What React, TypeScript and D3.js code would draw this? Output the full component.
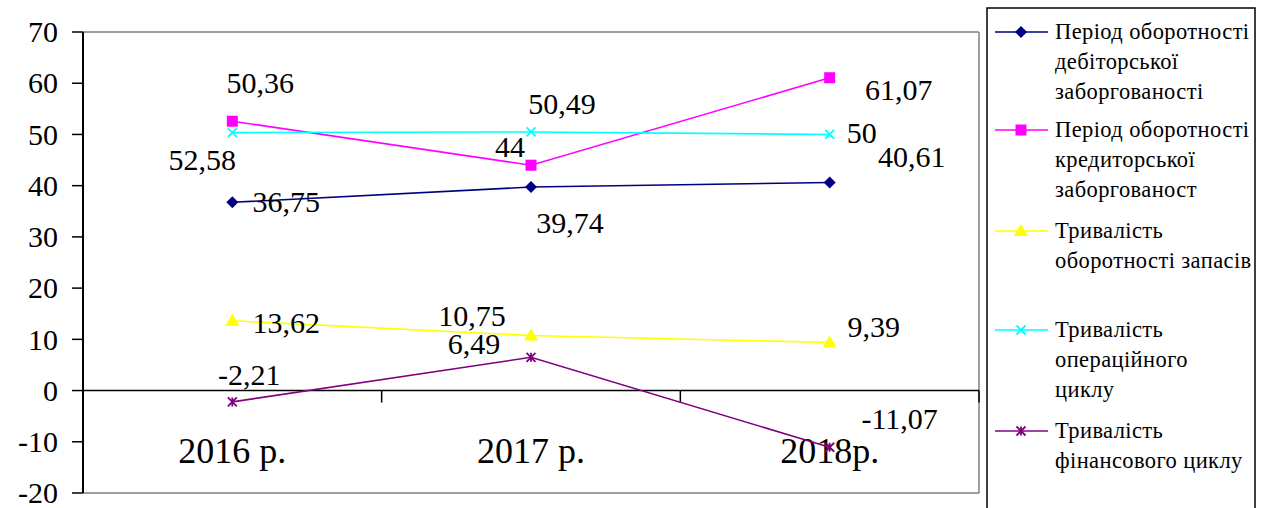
import React from "react";
import * as d3 from "d3";

const categories = ["2016 р.", "2017 р.", "2018р."];
const yTicks = [70, 60, 50, 40, 30, 20, 10, 0, -10, -20];

const debtorPeriod = [36.75, 39.74, 40.61];
const creditorPeriod = [52.58, 44, 61.07];
const inventoryDuration = [13.62, 10.75, 9.39];
const operatingCycle = [50.36, 50.49, 50];
const financialCycle = [-2.21, 6.49, -11.07];

const seriesNames = [
  ["Період оборотності", "дебіторської", "заборгованості"],
  ["Період оборотності", "кредиторської", "заборгованост"],
  ["Тривалість", "оборотності запасів"],
  ["Тривалість", "операційного", "циклу"],
  ["Тривалість", "фінансового циклу"],
];

// label placement offsets (px) relative to each point: [dx of text centre, dy of baseline]
const labelOffsets = [
  [[54, 10], [39, 46], [82, -16]],
  [[-30, 49], [-21, -8], [69, 22]],
  [[54, 12], [-59, -9], [44, -5]],
  [[28, -40], [31, -18], [32, 9]],
  [[17, -17], [-57, -3], [70, -18]],
];

const seriesStyle = [
  { color: "#000080", marker: "diamond" },
  { color: "#FF00FF", marker: "square" },
  { color: "#FFFF00", marker: "triangle" },
  { color: "#00FFFF", marker: "x" },
  { color: "#800080", marker: "star" },
];

const seriesData = [debtorPeriod, creditorPeriod, inventoryDuration, operatingCycle, financialCycle];

const fmt = (v: number) => String(v).replace(".", ",");

const FONT = { fontFamily: "'Liberation Serif', 'Times New Roman', serif" };

function Marker({ type, x, y, color }: { type: string; x: number; y: number; color: string }) {
  if (type === "diamond") {
    const s = 6;
    return <path d={`M${x},${y - s}L${x + s},${y}L${x},${y + s}L${x - s},${y}Z`} fill={color} />;
  }
  if (type === "square") {
    const s = 5.5;
    return <rect x={x - s} y={y - s} width={2 * s} height={2 * s} fill={color} />;
  }
  if (type === "triangle") {
    return <path d={`M${x},${y - 7}L${x + 7},${y + 5}L${x - 7},${y + 5}Z`} fill={color} />;
  }
  if (type === "x") {
    const s = 4.5;
    return (
      <path d={`M${x - s},${y - s}L${x + s},${y + s}M${x - s},${y + s}L${x + s},${y - s}`} stroke={color} strokeWidth={1.8} />
    );
  }
  const s = 4.5;
  return (
    <path
      d={`M${x - s},${y - s}L${x + s},${y + s}M${x - s},${y + s}L${x + s},${y - s}M${x},${y - s}L${x},${y + s}`}
      stroke={color}
      strokeWidth={1.8}
    />
  );
}

export default function App() {
  const W = 1269;
  const H = 508;
  const left = 83;
  const right = 979;
  const top = 32;
  const bottom = 493;

  const x = d3.scaleBand<string>().domain(categories).range([left, right]).padding(0);
  const y = d3.scaleLinear().domain([-20, 70]).range([bottom, top]);
  const cx = (c: string) => (x(c) as number) + x.bandwidth() / 2;
  const line = d3
    .line<number>()
    .x((_, i) => cx(categories[i]))
    .y((d) => y(d));

  const boundaries = [...categories.map((c) => x(c) as number), right];

  return (
    <div style={{ position: "absolute", left: 0, top: 0 }}>
      <svg width={W} height={H} style={{ display: "block", ...FONT }}>
        <rect width={W} height={H} fill="#fff" />
        {/* plot frame */}
        <line x1={left} x2={right} y1={top} y2={top} stroke="#808080" strokeWidth={1.5} />
        <line x1={right} x2={right} y1={top} y2={bottom} stroke="#808080" strokeWidth={1.5} />
        <line x1={left} x2={right} y1={bottom} y2={bottom} stroke="#808080" strokeWidth={1.5} />
        {/* y axis */}
        <line x1={left} x2={left} y1={top} y2={bottom} stroke="#000" strokeWidth={2} />
        {yTicks.map((t) => (
          <g key={t}>
            <line x1={left - 11} x2={left} y1={y(t)} y2={y(t)} stroke="#000" strokeWidth={1.5} />
            <text x={58} y={y(t)} dy="0.34em" textAnchor="end" fontSize={30} fill="#000" style={FONT}>
              {t}
            </text>
          </g>
        ))}
        {/* x axis at zero */}
        <line x1={left} x2={right} y1={y(0)} y2={y(0)} stroke="#000" strokeWidth={1.5} />
        {boundaries.slice(1).map((b, i) => (
          <line key={i} x1={b} x2={b} y1={y(0)} y2={y(0) + 12} stroke="#000" strokeWidth={1.5} />
        ))}
        {categories.map((c) => (
          <text key={c} x={cx(c)} y={463} textAnchor="middle" fontSize={36} fill="#000" style={FONT}>
            {c}
          </text>
        ))}
        {/* series */}
        {seriesData.map((data, si) => (
          <g key={si}>
            <path d={line(data) || ""} fill="none" stroke={seriesStyle[si].color} strokeWidth={1.6} />
            {data.map((v, i) => (
              <Marker key={i} type={seriesStyle[si].marker} x={cx(categories[i])} y={y(v)} color={seriesStyle[si].color} />
            ))}
          </g>
        ))}
        {seriesData.map((data, si) =>
          data.map((v, i) => (
            <text
              key={`${si}-${i}`}
              x={cx(categories[i]) + labelOffsets[si][i][0]}
              y={y(v) + labelOffsets[si][i][1]}
              textAnchor="middle"
              fontSize={30}
              fill="#000"
              style={FONT}
            >
              {fmt(v)}
            </text>
          ))
        )}
        {/* legend */}
        <defs>
          <clipPath id="legclip">
            <rect x={987} y={8} width={268} height={510} />
          </clipPath>
        </defs>
        <rect x={987} y={8} width={268} height={520} fill="#fff" stroke="#000" strokeWidth={1.5} />
        <g clipPath="url(#legclip)">
          {seriesNames.map((lines, si) => {
            const ly = [32, 130, 231, 330, 431][si];
            return (
              <g key={si}>
                <line x1={995} x2={1048} y1={ly} y2={ly} stroke={seriesStyle[si].color} strokeWidth={1.6} />
                <Marker type={seriesStyle[si].marker} x={1021} y={ly} color={seriesStyle[si].color} />
                {lines.map((t, li) => (
                  <text
                    key={li}
                    x={1055}
                    y={ly + 6.5 + li * 30}
                    fontSize={22.5}
                    letterSpacing={0.4}
                    fill="#000"
                    style={FONT}
                  >
                    {t}
                  </text>
                ))}
              </g>
            );
          })}
        </g>
      </svg>
    </div>
  );
}
